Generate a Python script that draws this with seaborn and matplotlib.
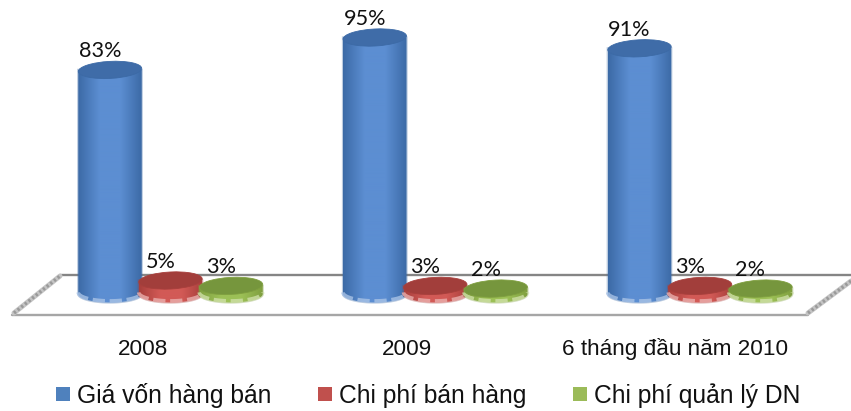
import numpy as np
import pandas as pd
import seaborn as sns
import matplotlib.pyplot as plt
from matplotlib.lines import Line2D
from matplotlib.patches import Ellipse, Polygon, Patch
from matplotlib.colors import LinearSegmentedColormap
from matplotlib.transforms import Affine2D

periods = ["2008", "2009", "6 tháng đầu năm 2010"]
cost_of_sales = [83, 95, 91]
selling = [5, 3, 3]
admin = [3, 2, 2]
series_names = ["Giá vốn hàng bán", "Chi phí bán hàng", "Chi phí quản lý DN"]

# body edge, body centre, top cap, bottom rim, legend swatch
styles = {
    series_names[0]: ("#3c6aa6", "#5c8ed2", "#3f6ca8", "#a9c3e6", "#4f81bd"),
    series_names[1]: ("#a83f3c", "#d25a56", "#a23e3b", "#eab0ae", "#c0504d"),
    series_names[2]: ("#7f9f3f", "#9cc056", "#76963d", "#cfe0a8", "#9bbb59"),
}

W, H = 851, 411
sns.set_theme(style="white")
fig = plt.figure(figsize=(W / 100, H / 100), dpi=100)
ax = fig.add_axes([0, 0, 1, 1])

df = pd.DataFrame({
    "period": np.tile(periods, 3),
    "series": np.repeat(series_names, 3),
    "share": cost_of_sales + selling + admin,
})
sns.barplot(data=df, x="period", y="share", hue="series", hue_order=series_names,
            order=periods, width=0.6855, gap=0, legend=False, ax=ax)

# Axes span the whole canvas: one category step is 264.75 px, one percent 2.70 px
BASE_PX, STEP_PX, UNIT_PX, CENTER_PX = 294, 264.75, 2.70, 170.5
ax.set_xlim(-CENTER_PX / STEP_PX, (W - CENTER_PX) / STEP_PX)
ax.set_ylim(-(H - BASE_PX) / UNIT_PX, BASE_PX / UNIT_PX)
ax.set_axis_off()

# Pixel space with the origin at the top left, for the floor and the cylinders
px = Affine2D().scale(1, -1).translate(0, H)


def to_px(x, y):
    dx, dy = ax.transData.transform((x, y))
    return dx, H - dy


# Floor of the pseudo-3D scene
ax.add_line(Line2D([60, 851], [275, 275], transform=px, color="#858585", lw=1.7, zorder=1))
ax.add_line(Line2D([12, 808], [315, 315], transform=px, color="#a6a6a6", lw=1.7, zorder=1))
for xs, ys in (([14, 60], [313, 276]), ([808, 851], [313, 281])):
    ax.add_line(Line2D(xs, ys, transform=px, color="#c4c4c4", lw=3.6, zorder=1))
    ax.add_line(Line2D(xs, ys, transform=px, color="#9a9a9a", lw=2.4, ls=(0, (0.7, 0.7)), zorder=1))

CAP_H = 17
EXTRA_W = 3


def cylinder(x0, w, value, name, z):
    edge, centre, cap, rim, _ = styles[name]
    left, top = to_px(x0, value)
    right, base = to_px(x0 + w, 0)
    left -= EXTRA_W / 2
    right += EXTRA_W / 2
    cx, rx, ry = (left + right) / 2, (right - left) / 2, CAP_H / 2
    t = np.linspace(np.pi, 0, 60)
    arc_x, arc_y = cx + rx * np.cos(t), base + ry * np.sin(t)
    outline = np.column_stack([
        np.r_[left, arc_x, right],
        np.r_[top, arc_y, top],
    ])
    # Soft halo along the silhouette
    ax.add_patch(Polygon(outline, closed=True, transform=px, fc="none",
                         ec=edge, lw=1.6, alpha=0.35, zorder=z))
    clip = Polygon(outline, closed=True, transform=px, fc="none", ec="none", zorder=z)
    ax.add_patch(clip)
    cmap = LinearSegmentedColormap.from_list("body", [edge, centre, centre, edge])
    img = ax.imshow(np.linspace(0, 1, 128)[None, :], cmap=cmap, aspect="auto",
                    extent=(left, right, base + ry + 2, top - 2), transform=px,
                    origin="upper", zorder=z)
    img.set_clip_path(clip)
    # Pale rim along the lower edge
    ax.add_line(Line2D(arc_x, arc_y - 1.6, transform=px, color=rim, lw=2.6, alpha=0.8,
                       ls=(0, (3.4, 1.3)), solid_capstyle="butt", zorder=z + 0.1))
    ax.add_patch(Ellipse((cx, top), 2 * rx, CAP_H, angle=-3, transform=px, fc=cap,
                         ec=edge, lw=0.6, zorder=z + 0.2))


n_series, n_periods = len(series_names), len(periods)
bars = list(ax.patches)
values = cost_of_sales + selling + admin
for i, (bar, val) in enumerate(zip(bars, values)):
    bar.set_visible(False)
    name = series_names[i // n_periods]
    cylinder(bar.get_x(), bar.get_width(), val, name, z=3 + i // n_periods)
    # Value label, up and to the left of the cap
    ax.annotate(f"{val}%", (bar.get_x() + bar.get_width() / 2, val),
                xytext=(-10 * 0.72, 18.5 * 0.72), textcoords="offset points",
                ha="center", va="center", fontsize=15.6, family="Lato",
                color="#111111", zorder=8)

ax.set_xlim(-CENTER_PX / STEP_PX, (W - CENTER_PX) / STEP_PX)
ax.set_ylim(-(H - BASE_PX) / UNIT_PX, BASE_PX / UNIT_PX)

# Category names sit left of each group's centre, following the 3D projection
for pos, label in enumerate(periods):
    shift = -28 if pos < 2 else -25
    ax.annotate(label, (pos, 0), xytext=(shift * 0.72, -(355 - BASE_PX) * 0.72),
                textcoords="offset points", ha="center", va="baseline",
                fontsize=16.2, family="Liberation Sans", color="#111111")

handles = [Patch(fc=styles[n][4], ec="none") for n in series_names]
fig.legend(handles, series_names, loc="center", bbox_to_anchor=(428 / W, 1 - 395 / H),
           ncol=3, frameon=False,
           prop={"family": "Liberation Sans", "size": 17.7},
           handlelength=0.57, handleheight=0.5, handletextpad=0.28, columnspacing=1.9,
           labelcolor="#111111")

fig.savefig("out.png", dpi=100, facecolor="white")
